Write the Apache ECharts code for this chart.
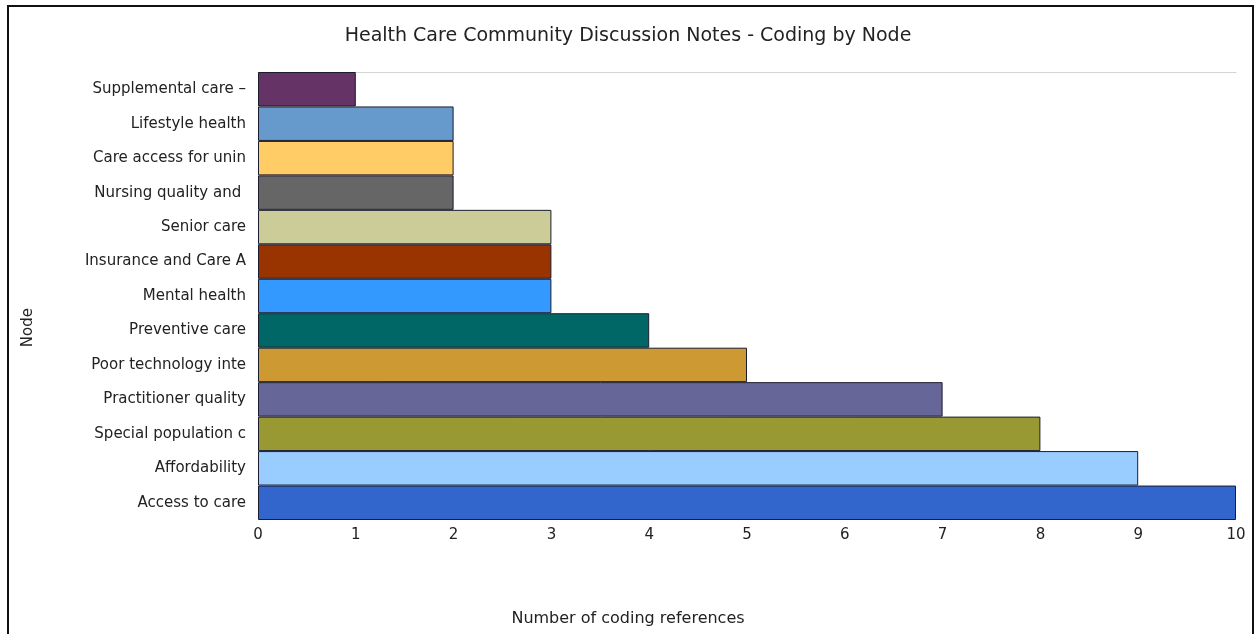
<!DOCTYPE html>
<html>
<head>
<meta charset="utf-8">
<script src="https://cdn.jsdelivr.net/npm/echarts@6/dist/echarts.min.js"></script>
<style>
  html, body { margin: 0; padding: 0; background: #fff; }
  #chart { width: 1256px; height: 634px; }
  #frame { position: absolute; left: 7px; top: 5px; width: 1243px; height: 627px;
           border: 2px solid #111; pointer-events: none; }
</style>
</head>
<body>
<div id="chart"></div>
<div id="frame"></div>
<script>
// Node names, listed top to bottom
const nodes = [
  'Supplemental care –', 'Lifestyle health', 'Care access for unin', 'Nursing quality and ',
  'Senior care', 'Insurance and Care A', 'Mental health', 'Preventive care',
  'Poor technology inte', 'Practitioner quality', 'Special population c', 'Affordability',
  'Access to care'
];
// Coding references per node
const references = [1, 2, 2, 2, 3, 3, 3, 4, 5, 7, 8, 9, 10];
// One fill per node
const nodeColors = [
  '#663366', '#6699cc', '#ffcc66', '#666666', '#cccc99', '#993300', '#3399ff',
  '#006666', '#cc9933', '#666699', '#999933', '#99ccff', '#3366cc'
];
const xTicks = [0, 1, 2, 3, 4, 5, 6, 7, 8, 9, 10];

const font = 'DejaVu Sans';
const chart = echarts.init(document.getElementById('chart'), null, { renderer: 'canvas' });

chart.setOption({
  animation: false,
  backgroundColor: '#fff',
  title: [
    { text: 'Health Care Community Discussion Notes - Coding by Node', left: 'center', top: 22,
      textStyle: { fontFamily: font, fontSize: 19, fontWeight: 'normal', color: '#222' } },
    { text: 'Number of coding references', left: 'center', top: 606,
      textStyle: { fontFamily: font, fontSize: 16, fontWeight: 'normal', color: '#222' } }
  ],
  graphic: [
    { type: 'text', left: 21, top: 308, rotation: Math.PI / 2,
      style: { text: 'Node', font: '15px "DejaVu Sans"', fill: '#222' } }
  ],
  grid: { left: 258, right: 20, top: 72, bottom: 114, containLabel: false },
  xAxis: [
    { type: 'value', min: 0, max: 10, interval: 1, position: 'bottom',
      axisLine: { show: false }, axisTick: { show: false }, splitLine: { show: false },
      axisLabel: { fontFamily: font, fontSize: 15, color: '#222', margin: 8,
        formatter: v => xTicks.includes(v) ? String(v) : '' } },
    { type: 'value', min: 0, max: 10, position: 'top',
      axisLine: { show: true, lineStyle: { color: '#d4d4d4', width: 1 } },
      axisTick: { show: false }, axisLabel: { show: false }, splitLine: { show: false } }
  ],
  yAxis: {
    type: 'category', data: nodes, inverse: true,
    axisLine: { show: false }, axisTick: { show: false },
    axisLabel: { fontFamily: font, fontSize: 15, color: '#222', margin: 12 }
  },
  series: [{
    type: 'bar', xAxisIndex: 0,
    data: references.map((v, i) => ({ value: v, itemStyle: { color: nodeColors[i] } })),
    barCategoryGap: 0,
    itemStyle: { borderColor: '#1c1c30', borderWidth: 1 }
  }]
});
</script>
</body>
</html>
